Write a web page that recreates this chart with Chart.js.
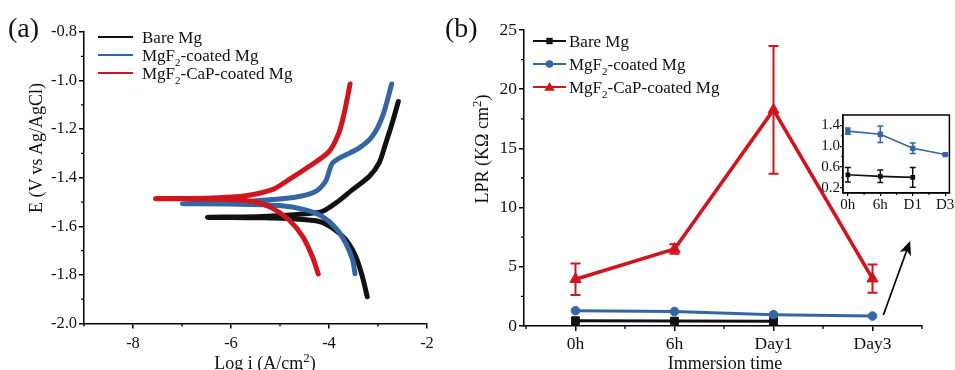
<!DOCTYPE html>
<html>
<head>
<meta charset="utf-8">
<title>Polarization curves and LPR of Mg samples</title>
<script src="https://cdn.jsdelivr.net/npm/chart.js@4.4.1/dist/chart.umd.min.js"></script>
<style>
  html, body { margin: 0; background: #fff; }
  #fig { position: relative; width: 955px; height: 370px; overflow: hidden;
         font-family: "Liberation Serif", "Times New Roman", serif; color: #111; }
  #fig canvas { position: absolute; left: 0; top: 0; }
  .txt { position: absolute; white-space: nowrap; font-size: 18px; line-height: 18px; }
  .panel { font-size: 28px; line-height: 28px; }
  .rot { transform: translate(-50%, -50%) rotate(-90deg); }
  .hc { transform: translateX(-50%); }
  .txt sup { font-size: 13px; line-height: 0; vertical-align: 7px; }
</style>
</head>
<body>
<div id="fig">
  <canvas id="chartPol" width="955" height="370"></canvas>
  <canvas id="chartLpr" width="955" height="370"></canvas>
  <canvas id="chartInset" width="955" height="370"></canvas>
  <div class="txt panel" style="left:8px;top:14px">(a)</div>
  <div class="txt panel" style="left:445px;top:14px">(b)</div>
  <div class="txt rot" style="left:36px;top:148px">E (V vs Ag/AgCl)</div>
  <div class="txt hc" style="left:265px;top:354px">Log i (A/cm<sup>2</sup>)</div>
  <div class="txt rot" style="left:482px;top:149px">LPR (KΩ cm<sup>2</sup>)</div>
  <div class="txt hc" style="left:725px;top:354px">Immersion time</div>
</div>
<script>
// ==================== Dados ====================
const seriesNames = ['Bare Mg', 'MgF2-coated Mg', 'MgF2-CaP-coated Mg'];

// (a) polarization curves, traced cathodic end -> Ecorr -> anodic end
const bareLogI = [-3.22, -3.32, -3.455, -3.66, -3.93, -4.20, -4.68, -5.36, -6.48, -5.36, -4.48, -4.14, -3.86, -3.52, -3.18, -2.98, -2.84, -2.71, -2.585];
const bareE    = [-1.890, -1.806, -1.724, -1.655, -1.607, -1.580, -1.570, -1.565, -1.563, -1.559, -1.548, -1.539, -1.504, -1.449, -1.395, -1.340, -1.257, -1.175, -1.086];

const mgf2LogI = [-3.47, -3.52, -3.66, -3.86, -4.14, -4.48, -5.02, -6.04, -6.99, -6.04, -5.16, -4.61, -4.27, -4.07, -4.00, -3.93, -3.73, -3.39, -3.12, -2.91, -2.72];
const mgf2E    = [-1.795, -1.737, -1.669, -1.607, -1.559, -1.532, -1.514, -1.508, -1.507, -1.503, -1.490, -1.477, -1.456, -1.415, -1.375, -1.340, -1.313, -1.278, -1.230, -1.148, -1.014];

const capLogI = [-4.22, -4.34, -4.54, -4.82, -5.16, -5.57, -6.38, -7.54, -6.38, -5.70, -5.16, -4.82, -4.41, -4.00, -3.80, -3.69, -3.57];
const capE    = [-1.796, -1.724, -1.641, -1.573, -1.525, -1.497, -1.488, -1.486, -1.483, -1.474, -1.449, -1.408, -1.354, -1.292, -1.216, -1.134, -1.014];

const polXTicks = [-8, -6, -4, -2];
const polXMinor = [-9, -7, -5, -3];
const polYTicks = [-0.8, -1.0, -1.2, -1.4, -1.6, -1.8, -2.0];
const polYMinor = [-0.9, -1.1, -1.3, -1.5, -1.7, -1.9];

// (b) LPR vs immersion time
const timeLabels = ['0h', '6h', 'Day1', 'Day3'];
const insetTimeLabels = ['0h', '6h', 'D1', 'D3'];
const timeIdx = [0, 1, 2, 3];
const bareLpr = [0.45, 0.42, 0.40];
const bareLprErr = [0.14, 0.12, 0.19];
const mgf2Lpr = [1.29, 1.23, 0.96, 0.84];
const mgf2LprErr = [0.06, 0.16, 0.10, 0.015];
const capLpr = [3.95, 6.5, 18.25, 4.0];
const capLprErr = [1.33, 0.4, 5.4, 1.2];

const lprYTicks = [0, 5, 10, 15, 20, 25];
const lprYMinor = [2.5, 7.5, 12.5, 17.5, 22.5];
const lprXMinor = [-0.5, 0.5, 1.5, 2.5, 3.5];
const insetYTicks = [0.2, 0.6, 1.0, 1.4];
const insetYMinor = [0.4, 0.8, 1.2];
const insetXMinor = [0.5, 1.5, 2.5];

const COR = { bare: '#111111', mgf2: '#3366a2', cap: '#d0151f' };
const FONT = '"Liberation Serif", "Times New Roman", serif';
Chart.defaults.font.family = FONT;

function pts(xs, ys) { return ys.map((y, i) => ({ x: xs[i], y })); }

// ==================== Helpers de eixo ====================
function fixAxis(size) {
  return scale => {
    if (scale.isHorizontal()) scale.height = size; else scale.width = size;
    scale.paddingLeft = scale.paddingRight = scale.paddingTop = scale.paddingBottom = 0;
  };
}

function axis(o) {
  return {
    type: 'linear', min: o.min, max: o.max,
    afterBuildTicks: scale => { scale.ticks = o.ticks.map(v => ({ value: v })); },
    afterFit: fixAxis(o.size),
    border: { color: '#000', width: o.bw || 1.5 },
    grid: { drawOnChartArea: false, color: '#000', lineWidth: o.bw || 1.5, tickLength: o.tl },
    ticks: { autoSkip: false, maxRotation: 0, padding: o.pad, color: '#111', font: { size: o.font }, callback: o.fmt }
  };
}

// ==================== Plugins ====================
const minorTicks = {
  id: 'minorTicks',
  afterDraw(chart, args, o) {
    const { ctx, chartArea } = chart;
    ctx.save();
    ctx.strokeStyle = '#000';
    ctx.lineWidth = o.width || 1.3;
    ctx.beginPath();
    (o.x || []).forEach(v => {
      const px = chart.scales.x.getPixelForValue(v);
      ctx.moveTo(px, chartArea.bottom);
      ctx.lineTo(px, chartArea.bottom + o.len);
    });
    (o.y || []).forEach(v => {
      const py = chart.scales.y.getPixelForValue(v);
      ctx.moveTo(chartArea.left, py);
      ctx.lineTo(chartArea.left - o.len, py);
    });
    ctx.stroke();
    ctx.restore();
  }
};

const errorBars = {
  id: 'errorBars',
  afterDatasetsDraw(chart, args, o) {
    const ctx = chart.ctx;
    const ys = chart.scales.y;
    chart.data.datasets.forEach((ds, i) => {
      if (!ds.errors) return;
      const meta = chart.getDatasetMeta(i);
      ctx.save();
      ctx.strokeStyle = ds.borderColor;
      ctx.lineWidth = o.width;
      meta.data.forEach((pt, j) => {
        const e = ds.errors[j];
        if (!e) return;
        const v = ds.data[j].y;
        const top = ys.getPixelForValue(v + e), bot = ys.getPixelForValue(v - e);
        ctx.beginPath();
        ctx.moveTo(pt.x, top); ctx.lineTo(pt.x, bot);
        ctx.moveTo(pt.x - o.cap, top); ctx.lineTo(pt.x + o.cap, top);
        ctx.moveTo(pt.x - o.cap, bot); ctx.lineTo(pt.x + o.cap, bot);
        ctx.stroke();
      });
      ctx.restore();
    });
  }
};

function drawMarker(ctx, style, x, y, r, color) {
  ctx.fillStyle = color;
  ctx.beginPath();
  if (style === 'rect') ctx.rect(x - r, y - r, 2 * r, 2 * r);
  else if (style === 'triangle') {
    ctx.moveTo(x, y - r * 1.1);
    ctx.lineTo(x + r * 1.15, y + r * 0.8);
    ctx.lineTo(x - r * 1.15, y + r * 0.8);
    ctx.closePath();
  } else ctx.arc(x, y, r, 0, Math.PI * 2);
  ctx.fill();
}

// texto com subscrito para os digitos (MgF2)
function drawChemText(ctx, text, x, y, size) {
  ctx.fillStyle = '#111';
  ctx.textBaseline = 'alphabetic';
  ctx.textAlign = 'left';
  const base = y + size * 0.36;
  text.split(/(\d)/).forEach((part, k) => {
    if (!part) return;
    const sub = k % 2 === 1;
    ctx.font = `${sub ? Math.round(size * 0.62) : size}px ${FONT}`;
    ctx.fillText(part, x, sub ? base + size * 0.3 : base);
    x += ctx.measureText(part).width;
  });
}

const seriesLegend = {
  id: 'seriesLegend',
  afterDraw(chart, args, o) {
    const ctx = chart.ctx;
    ctx.save();
    chart.data.datasets.forEach((ds, i) => {
      const y = o.top + i * o.step;
      ctx.strokeStyle = ds.borderColor;
      ctx.lineWidth = o.lineWidth;
      ctx.beginPath();
      ctx.moveTo(o.left, y);
      ctx.lineTo(o.left + o.len, y);
      ctx.stroke();
      if (o.markers) drawMarker(ctx, ds.pointStyle, o.left + o.len / 2, y, o.markers[i], ds.borderColor);
      drawChemText(ctx, ds.label, o.left + o.len + o.gap, y, o.font);
    });
    ctx.restore();
  }
};

const noteArrow = {
  id: 'noteArrow',
  afterDraw(chart, args, o) {
    const { x, y } = chart.scales;
    const x0 = x.getPixelForValue(o.from[0]), y0 = y.getPixelForValue(o.from[1]);
    const x1 = x.getPixelForValue(o.to[0]), y1 = y.getPixelForValue(o.to[1]);
    const a = Math.atan2(y1 - y0, x1 - x0), c = Math.cos(a), s = Math.sin(a);
    const ctx = chart.ctx;
    ctx.save();
    ctx.strokeStyle = ctx.fillStyle = '#000';
    ctx.lineWidth = 1.7;
    ctx.beginPath();
    ctx.moveTo(x0, y0);
    ctx.lineTo(x1 - 8 * c, y1 - 8 * s);
    ctx.stroke();
    ctx.beginPath();
    ctx.moveTo(x1, y1);
    ctx.lineTo(x1 - 14 * c + 6 * s, y1 - 14 * s - 6 * c);
    ctx.lineTo(x1 - 10 * c, y1 - 10 * s);
    ctx.lineTo(x1 - 14 * c - 6 * s, y1 - 14 * s + 6 * c);
    ctx.closePath();
    ctx.fill();
    ctx.restore();
  }
};

const frameBox = {
  id: 'frameBox',
  afterDraw(chart) {
    const { ctx, chartArea: a } = chart;
    ctx.save();
    ctx.strokeStyle = '#000';
    ctx.lineWidth = 1.5;
    ctx.strokeRect(a.left, a.top, a.right - a.left, a.bottom - a.top);
    ctx.restore();
  }
};

const base = { responsive: false, animation: false, devicePixelRatio: 1, events: [] };

// ==================== (a) Tafel ====================
new Chart(document.getElementById('chartPol'), {
  type: 'scatter',
  data: {
    datasets: [
      { label: seriesNames[0], data: pts(bareLogI, bareE), borderColor: COR.bare, order: 3 },
      { label: seriesNames[1], data: pts(mgf2LogI, mgf2E), borderColor: COR.mgf2, order: 2 },
      { label: seriesNames[2], data: pts(capLogI, capE), borderColor: COR.cap, order: 1 }
    ].map(d => Object.assign(d, { showLine: true, pointRadius: 0, borderWidth: 5,
      borderCapStyle: 'round', borderJoinStyle: 'round', tension: 0.3 }))
  },
  options: Object.assign({}, base, {
    layout: { padding: { left: 0, right: 955 - 427, top: 32, bottom: 0 } },
    plugins: {
      legend: { display: false }, tooltip: { enabled: false },
      minorTicks: { x: polXMinor, y: polYMinor, len: 3 },
      seriesLegend: { left: 98, len: 35, gap: 9, top: 37, step: 18, lineWidth: 2, font: 17 }
    },
    scales: {
      x: axis({ min: -9, max: -2, ticks: polXTicks, size: 370 - 323.5, tl: 5, pad: 5, font: 16.5, fmt: v => String(v) }),
      y: axis({ min: -2.0, max: -0.8, ticks: polYTicks, size: 84, tl: 5, pad: 2, font: 16.5, fmt: v => v.toFixed(1) })
    }
  }),
  plugins: [minorTicks, seriesLegend]
});

// ==================== (b) LPR ====================
new Chart(document.getElementById('chartLpr'), {
  type: 'line',
  data: {
    datasets: [
      { label: seriesNames[0], data: pts(timeIdx, bareLpr), borderColor: COR.bare, pointStyle: 'rect', pointRadius: 5.5, borderWidth: 3, order: 3 },
      { label: seriesNames[1], data: pts(timeIdx, mgf2Lpr), borderColor: COR.mgf2, pointStyle: 'circle', pointRadius: 4.3, borderWidth: 3, order: 2 },
      { label: seriesNames[2], data: pts(timeIdx, capLpr), errors: capLprErr, borderColor: COR.cap, pointStyle: 'triangle', pointRadius: 6.5, borderWidth: 3.6, order: 1 }
    ].map(d => Object.assign(d, { backgroundColor: d.borderColor, pointBackgroundColor: d.borderColor,
      pointBorderColor: d.borderColor, pointBorderWidth: 1, tension: 0, fill: false }))
  },
  options: Object.assign({}, base, {
    layout: { padding: { left: 524 - 40, right: 955 - 922, top: 30, bottom: 0 } },
    plugins: {
      legend: { display: false }, tooltip: { enabled: false },
      minorTicks: { x: lprXMinor, y: lprYMinor, len: 3 },
      errorBars: { width: 2, cap: 5 },
      seriesLegend: { left: 533, len: 33, gap: 3, top: 41, step: 23, lineWidth: 2, font: 17, markers: [3.2, 3.8, 4.6] },
      noteArrow: { from: [3.11, 0.93], to: [3.38, 7.18] }
    },
    scales: {
      x: axis({ min: -0.52, max: 3.5, ticks: timeIdx, size: 370 - 326, tl: 5, pad: 3, font: 17.5, fmt: v => timeLabels[v] }),
      y: axis({ min: 0, max: 25, ticks: lprYTicks, size: 40, tl: 5, pad: 2, font: 17.5, fmt: v => String(v) })
    }
  }),
  plugins: [minorTicks, errorBars, seriesLegend, noteArrow]
});

// ==================== Inset ====================
new Chart(document.getElementById('chartInset'), {
  type: 'line',
  data: {
    datasets: [
      { label: seriesNames[0], data: pts(timeIdx, bareLpr), errors: bareLprErr, borderColor: COR.bare, pointStyle: 'rect', pointRadius: 2.2 },
      { label: seriesNames[1], data: pts(timeIdx, mgf2Lpr), errors: mgf2LprErr, borderColor: COR.mgf2, pointStyle: 'rect', pointRadius: 2.6 }
    ].map(d => Object.assign(d, { borderWidth: 1.6, backgroundColor: d.borderColor, pointBackgroundColor: d.borderColor,
      pointBorderColor: d.borderColor, tension: 0, fill: false }))
  },
  options: Object.assign({}, base, {
    layout: { padding: { left: 843 - 30, right: 955 - 952, top: 115, bottom: 370 - 193 - 22 } },
    plugins: {
      legend: { display: false }, tooltip: { enabled: false },
      minorTicks: { x: insetXMinor, y: insetYMinor, len: 2, width: 1 },
      errorBars: { width: 1.5, cap: 3 }
    },
    scales: {
      x: axis({ min: -0.15, max: 3.13, ticks: timeIdx, size: 22, tl: 3, pad: 0, font: 15, bw: 1.2, fmt: v => insetTimeLabels[v] }),
      y: axis({ min: 0.1, max: 1.6, ticks: insetYTicks, size: 30, tl: 3, pad: 0, font: 15, bw: 1.2, fmt: v => v.toFixed(1) })
    }
  }),
  plugins: [minorTicks, errorBars, frameBox]
});
</script>
</body>
</html>
